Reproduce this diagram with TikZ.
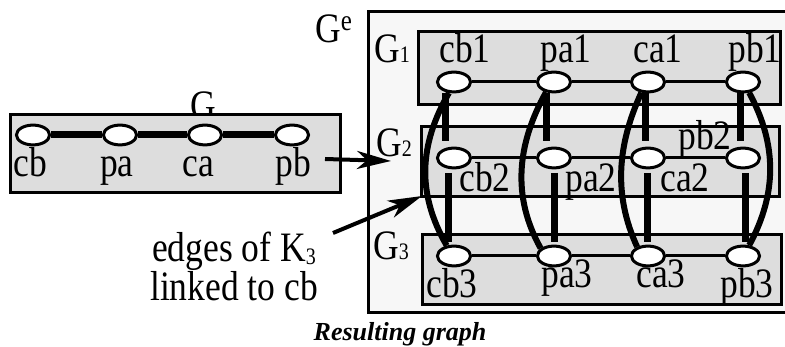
\documentclass[tikz,border=0pt]{standalone}
\usepackage{fontspec}
\setmainfont{Liberation Serif}
\usepackage{graphicx}
\usetikzlibrary{shapes.geometric,arrows.meta}
\definecolor{outerfill}{HTML}{F7F7F7}
\definecolor{boxfill}{HTML}{DDDDDD}
\newcommand\tx[1]{\scalebox{1}[1.18]{#1}}
\newcommand\subsz[1]{{\fontsize{20}{20}\selectfont #1}}
\begin{document}
\begin{tikzpicture}[x=1pt,y=-1pt,
  vert/.style={ellipse,draw,line width=3pt,fill=white,inner xsep=11.7pt,inner ysep=7pt,minimum size=0pt},
  lab/.style={anchor=base,inner sep=0pt,font=\fontsize{35.5}{28}\selectfont},
  grp/.style={draw,line width=3pt,fill=boxfill},
  hedge/.style={line width=3pt},
  ledge/.style={line width=7pt},
  vedge/.style={line width=7pt},
  cedge/.style={line width=6pt},
  arr/.style={line width=4pt,-{Stealth[length=34pt,width=18pt,inset=10pt]}}
]
\useasboundingbox (0,0) rectangle (785,347);
\clip (0,0) rectangle (785,347);

% ---- left graph G ----
\node[lab] (Glab) at (203,120) {\tx{G}};
\draw[grp] (10,115) rectangle (340,193);
\node[vert] (cb) at (33,135) {};
\node[vert] (pa) at (120,135) {};
\node[vert] (ca) at (205,135) {};
\node[vert] (pb) at (292,135) {};
\draw[ledge] (cb) -- (pa);
\draw[ledge] (pa) -- (ca);
\draw[ledge] (ca) -- (pb);
\node[lab] (lcb) at (30,177) {\tx{cb}};
\node[lab] (lpa) at (117,177) {\tx{pa}};
\node[lab] (lca) at (198,177) {\tx{ca}};
\node[lab] (lpb) at (293,177) {\tx{pb}};

% ---- resulting graph Ge ----
\draw[draw,line width=3pt,fill=outerfill] (368,12) rectangle (800,313);
\node[lab,anchor=base west] (Ge) at (315,43) {\tx{G\raisebox{11pt}{\fontsize{25}{25}\selectfont e}}};
\draw[grp] (418,32) rectangle (780,105);
\draw[grp] (421,127) rectangle (779,197);
\draw[grp] (422,235) rectangle (781,305);
\node[lab,anchor=base west] (G1) at (374,63) {\tx{G\subsz{1}}};
\node[lab,anchor=base west] (G2) at (376,157) {\tx{G\subsz{2}}};
\node[lab,anchor=base west] (G3) at (373,260) {\tx{G\subsz{3}}};

\foreach \n/\x in {cb/454,pa/554,ca/648,pb/743}{
  \node[vert] (\n1) at (\x,82) {};
  \node[vert] (\n2) at (\x,158) {};
  \node[vert] (\n3) at (\x,256) {};
}
\foreach \r in {1,2,3}{
  \draw[hedge] (cb\r) -- (pa\r);
  \draw[hedge] (pa\r) -- (ca\r);
  \draw[hedge] (ca\r) -- (pb\r);
}
% vertical K3 edges
\foreach \n/\u/\l in {cb/-9/-6,pa/-8/0,ca/-3/-1,pb/-3/2}{
  \draw[vedge,shorten >=5.5pt] ([xshift=\u pt]\n1.south) -- ([xshift=\u pt]\n2.north);
  \draw[vedge,shorten <=3.5pt,shorten >=2.5pt] ([xshift=\l pt]\n2.south) -- ([xshift=\l pt]\n3.north);
}
% curved K3 edges
\draw[cedge] (cb1.-115) .. controls +(-30,52) and +(-30,-52) .. (cb3.125);
\draw[cedge] (pa1.-128) .. controls +(-29,52) and +(-29,-52) .. (pa3.150);
\draw[cedge] (ca1.-122) .. controls +(-24,52) and +(-24,-52) .. (ca3.140);
\draw[cedge] (pb1.-60) .. controls +(28,52) and +(28,-52) .. (pb3.60);

% node labels
\node[lab] (lcb1) at (465,63) {\tx{cb1}};
\node[lab] (lpa1) at (566,63) {\tx{pa1}};
\node[lab] (lca1) at (658,63) {\tx{ca1}};
\node[lab] (lpb1) at (755,63) {\tx{pb1}};
\node[lab] (lcb2) at (485,192) {\tx{cb2}};
\node[lab] (lpa2) at (591,192) {\tx{pa2}};
\node[lab] (lca2) at (685,192) {\tx{ca2}};
\node[lab] (lpb2) at (705,150) {\tx{pb2}};
\node[lab] (lcb3) at (452,298) {\tx{cb3}};
\node[lab] (lpa3) at (567,288) {\tx{pa3}};
\node[lab] (lca3) at (661,288) {\tx{ca3}};
\node[lab] (lpb3) at (747,298) {\tx{pb3}};

% annotation and arrows
\node[lab] (note) at (234,262) {\tx{\begin{tabular}[t]{@{}c@{}}edges of K\raisebox{-2pt}{\subsz{3}}\\linked to cb\end{tabular}}};
\coordinate (a1s) at (325,159);
\coordinate (a1e) at (391,161);
\draw[arr] (a1s) -- (a1e);
\coordinate (a2s) at (333,233);
\coordinate (a2e) at (422,196);
\draw[arr] (a2s) -- (a2e);

\node[anchor=base,inner sep=0pt,font=\fontsize{26}{30}\selectfont\bfseries\itshape] (cap) at (400,341) {Resulting graph};
\end{tikzpicture}
\end{document}
